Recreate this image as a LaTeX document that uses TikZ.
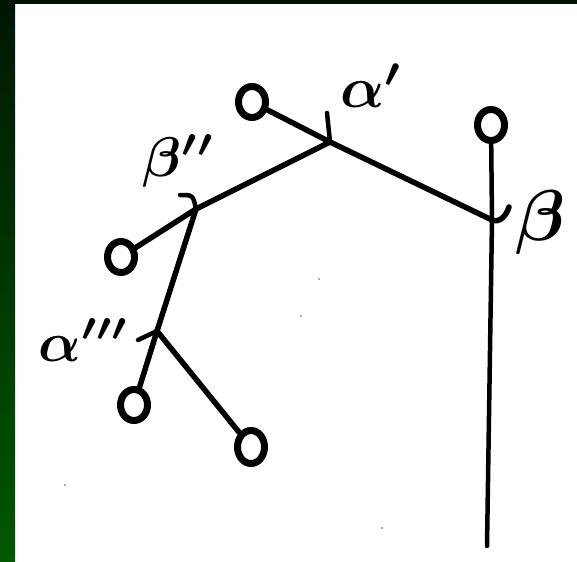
\documentclass[tikz,border=0pt]{standalone}
\usetikzlibrary{shapes.geometric}
\definecolor{topband}{RGB}{0,16,0}
\definecolor{greentop}{RGB}{0,22,4}
\definecolor{greenbot}{RGB}{0,88,0}
\tikzset{
  ring/.style={draw=black, ellipse, line width=7pt, minimum width=27pt, minimum height=31pt, inner sep=0pt, fill=white},
  stroke/.style={draw=black, line width=5.5pt, line cap=round},
  thinstroke/.style={draw=black, line width=4.5pt, line cap=round},
  lbl/.style={inner sep=0pt, text=black, font=\boldmath},
  speck/.style={fill=black!45}
}
\begin{document}
\begin{tikzpicture}[x=1pt, y=-1pt]
\useasboundingbox (0,0) rectangle (577,561);
\fill[white] (0,0) rectangle (577,561);
\fill[topband] (0,0) rectangle (577,4);
\shade[top color=greentop, bottom color=greenbot] (0,0) rectangle (15,561);

% junctions
\coordinate (ja) at (330,142);
\coordinate (jb) at (492,220);
\coordinate (jbb) at (196,209);
\coordinate (jaaa) at (157,331);
\coordinate (bot) at (487,546);

% tick ends
\coordinate (ta) at (327,113);
\coordinate (tbb) at (180,195);
\coordinate (taaa) at (138,340);
\coordinate (hb) at (509,207);

% edges
\draw[stroke] (ja) -- (jb);
\draw[stroke] (ja) -- (jbb);
\draw[stroke] (jbb) -- (jaaa);
\draw[thinstroke] (jb) -- (bot);

% rings
\node[ring] (c1) at (252,102) {};
\node[ring] (c2) at (491,125) {};
\node[ring] (c3) at (121,257) {};
\node[ring] (c4) at (134,405) {};
\node[ring, minimum width=27pt, minimum height=33pt] (c5) at (251,447) {};

\draw[stroke] (c1) -- (ja);
\draw[thinstroke] (c2) -- (jb);
\draw[stroke] (jbb) -- (c3);
\draw[stroke] (jaaa) -- (c4);
\draw[stroke] (jaaa) -- (c5);

% ticks and hook
\draw[thinstroke] (ta) -- (ja);
\draw[thinstroke] (tbb) .. controls (193,195) .. (jbb);
\draw[thinstroke] (taaa) -- (jaaa);
\draw[stroke] (jb) .. controls (500,223) and (506,216) .. (hb);

% labels
\node[lbl, scale=5.8] (la) at (372,86) {$\alpha'$};
\node[lbl, scale=5.6] (lbb) at (179,161) {$\beta''$};
\node[lbl, scale=5.6] (laaa) at (84,340) {$\alpha'''$};
\node[lbl, scale=7.2] (lb) at (540,222) {$\beta$};

% scan specks
\fill[speck] (319,279) circle (1.2);
\fill[speck] (301,316) circle (1.2);
\fill[speck] (65,485) circle (1.2);
\fill[speck] (382,528) circle (1.2);
\end{tikzpicture}
\end{document}
